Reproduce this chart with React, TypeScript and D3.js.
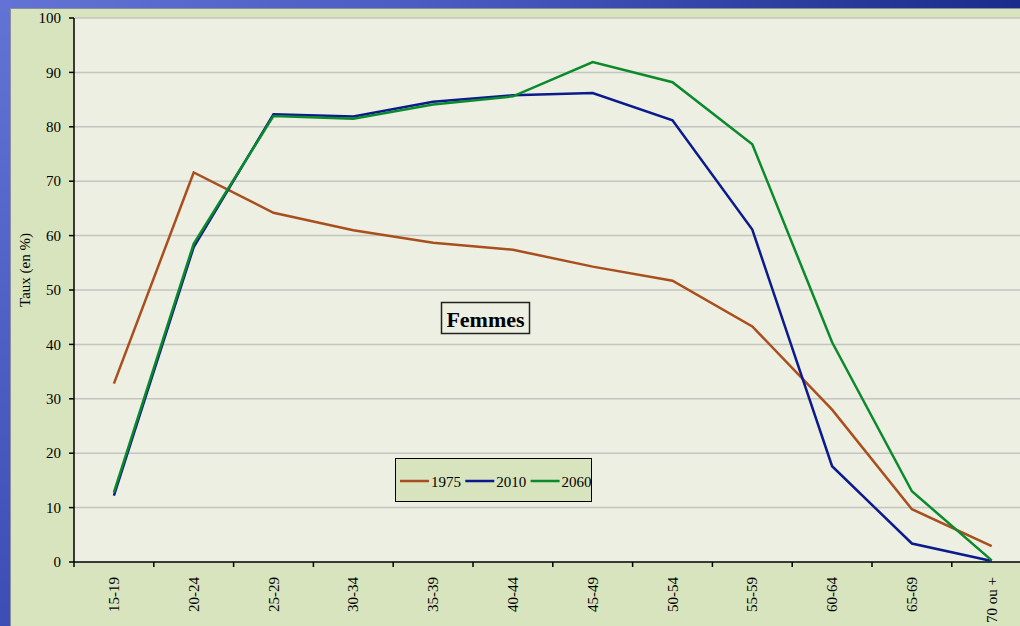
import React from "react";
import * as d3 from "d3";

const categories = ["15-19", "20-24", "25-29", "30-34", "35-39", "40-44", "45-49", "50-54", "55-59", "60-64", "65-69", "70 ou +"];
const values1975 = [32.8, 71.6, 64.2, 61.0, 58.7, 57.4, 54.3, 51.7, 43.3, 28.0, 9.7, 2.9];
const values2010 = [12.2, 57.9, 82.3, 81.9, 84.6, 85.8, 86.2, 81.2, 61.1, 17.6, 3.4, 0.2];
const values2060 = [12.8, 58.5, 82.0, 81.5, 84.1, 85.6, 91.9, 88.2, 76.8, 40.4, 13.0, 0.3];
const yTicks = [0, 10, 20, 30, 40, 50, 60, 70, 80, 90, 100];
const seriesNames = ["1975", "2010", "2060"];
const seriesColors = ["#A94F1E", "#0B1A8C", "#0B8A2C"];

const W = 1020, H = 626;
const plotLeft = 74, plotTop = 18, plotBottom = 562;
const band = 79.8;

export default function App() {
  const x = d3.scaleBand<string>().domain(categories).range([plotLeft, plotLeft + band * categories.length]).padding(0);
  const y = d3.scaleLinear().domain([0, 100]).range([plotBottom, plotTop]);
  const line = d3.line<number>().x((_, i) => (x(categories[i]) as number) + x.bandwidth() / 2).y((d) => y(d));
  const allSeries = [values1975, values2010, values2060];
  const font = "'Liberation Serif', 'Times New Roman', serif";

  const legendX = 395, legendY = 458;
  return (
    <svg width={W} height={H} style={{ position: "absolute", left: 0, top: 0 }} fontFamily={font}>
      <defs>
        <linearGradient id="topg" x1="0" y1="0" x2="1" y2="0">
          <stop offset="0" stopColor="#6373D5" />
          <stop offset="0.45" stopColor="#4859C0" />
          <stop offset="1" stopColor="#1A2B8B" />
        </linearGradient>
        <linearGradient id="leftg" x1="0" y1="0" x2="0" y2="1">
          <stop offset="0" stopColor="#6373D5" />
          <stop offset="1" stopColor="#3D4DB6" />
        </linearGradient>
      </defs>
      <rect x={0} y={0} width={W} height={H} fill="#D7E4BD" />
      <rect x={0} y={0} width={W} height={8} fill="url(#topg)" />
      <rect x={0} y={0} width={10} height={H} fill="url(#leftg)" />
      <line x1={10.5} y1={8} x2={10.5} y2={H} stroke="#8A8F9A" strokeWidth={1} />
      <line x1={10} y1={8.5} x2={W} y2={8.5} stroke="#8A8F9A" strokeWidth={1} />
      <rect x={plotLeft} y={plotTop} width={W - plotLeft} height={plotBottom - plotTop} fill="#ECEFE1" />
      {yTicks.filter((t) => t > 0).map((t) => (
        <line key={t} x1={plotLeft} x2={W} y1={y(t)} y2={y(t)} stroke="#C4C4C0" strokeWidth={1.5} />
      ))}
      {/* axes */}
      <line x1={plotLeft} x2={plotLeft} y1={plotTop} y2={plotBottom} stroke="#000" strokeWidth={1.5} />
      <line x1={plotLeft} x2={W} y1={plotBottom} y2={plotBottom} stroke="#000" strokeWidth={1.5} />
      {yTicks.map((t) => (
        <g key={t}>
          <line x1={plotLeft - 5} x2={plotLeft} y1={y(t)} y2={y(t)} stroke="#000" strokeWidth={1.5} />
          <text x={plotLeft - 13} y={y(t)} dy="0.35em" textAnchor="end" fontSize={15} fill="#000">{t}</text>
        </g>
      ))}
      {categories.map((c) => (
        <line key={"t" + c} x1={x(c) as number} x2={x(c) as number} y1={plotBottom} y2={plotBottom + 5} stroke="#000" strokeWidth={1.5} />
      ))}
      {categories.map((c) => {
        const cx = (x(c) as number) + x.bandwidth() / 2;
        return (
          <text key={"l" + c} transform={`translate(${cx + 5},${plotBottom + 15}) rotate(-90)`} textAnchor="end" fontSize={15} fill="#000">{c}</text>
        );
      })}
      <text transform={`translate(30,270) rotate(-90)`} textAnchor="middle" fontSize={15} fill="#000">Taux (en %)</text>
      {allSeries.map((s, i) => (
        <path key={i} d={line(s) as string} fill="none" stroke={seriesColors[i]} strokeWidth={2.5} strokeLinejoin="miter" />
      ))}
      {/* title box */}
      <rect x={441.5} y={302.5} width={88} height={31} fill="#ECEFE1" stroke="#222" strokeWidth={1.5} />
      <text x={485.5} y={319} dy="0.35em" textAnchor="middle" fontSize={22} fontWeight="bold" fill="#000">Femmes</text>
      {/* legend */}
      <rect x={legendX + 0.5} y={legendY + 0.5} width={196} height={43} fill="#D7E4BD" stroke="#000" strokeWidth={1} />
      {seriesNames.map((n, i) => {
        const ox = legendX + 5 + i * 65.3;
        return (
          <g key={n}>
            <line x1={ox} x2={ox + 29} y1={legendY + 23} y2={legendY + 23} stroke={seriesColors[i]} strokeWidth={2.5} />
            <text x={ox + 31} y={legendY + 24} dy="0.35em" fontSize={15} fill="#000">{n}</text>
          </g>
        );
      })}
    </svg>
  );
}
